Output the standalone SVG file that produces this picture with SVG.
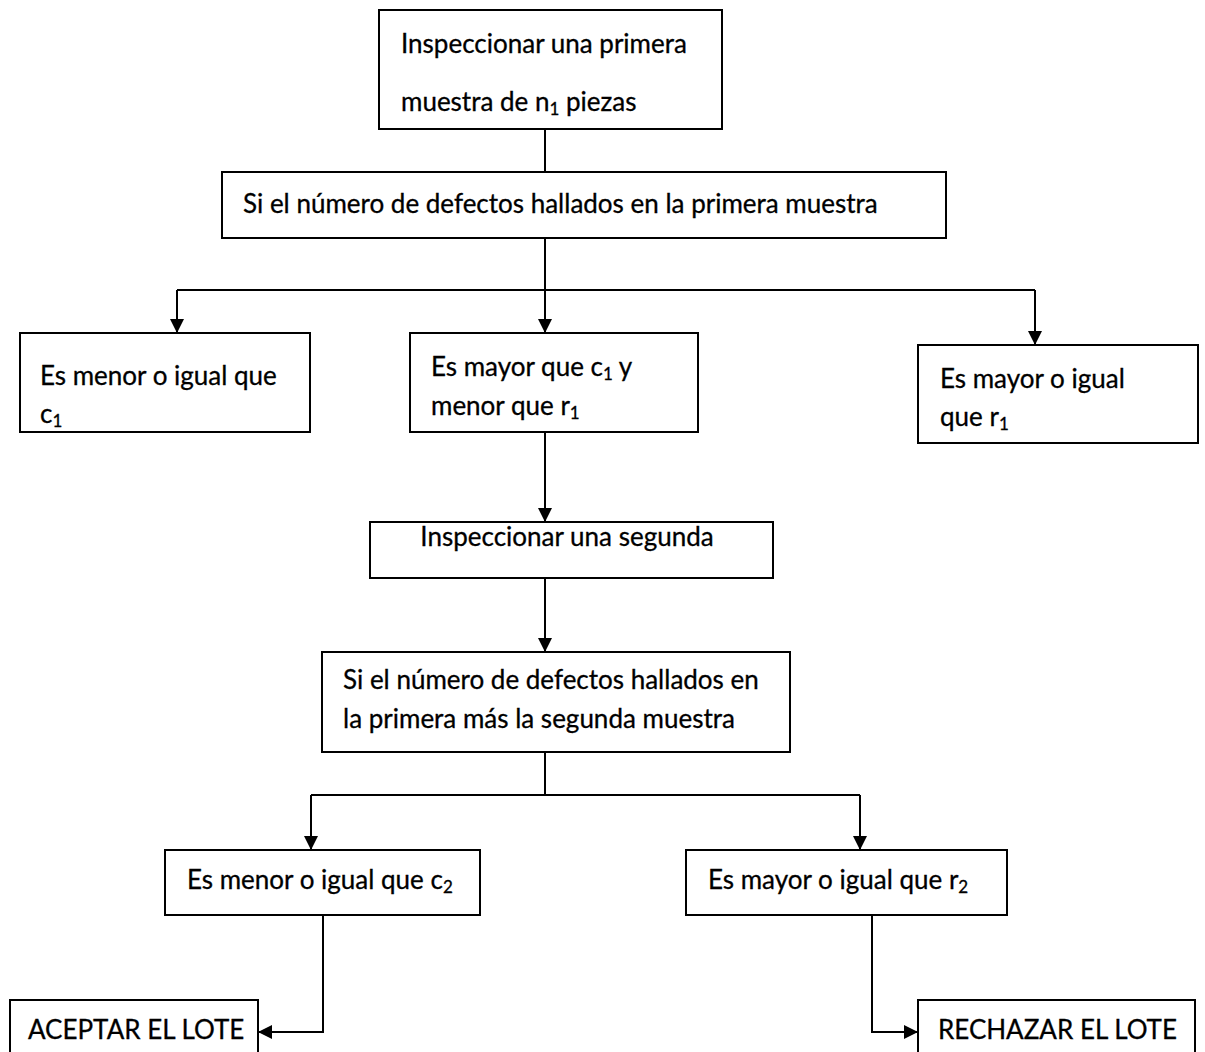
<svg xmlns="http://www.w3.org/2000/svg" width="1205" height="1052" viewBox="0 0 1205 1052">
<style>
.box{fill:#fff;stroke:#000;stroke-width:2}
.t{font-family:Lato,"Liberation Sans",sans-serif;font-size:26px;fill:#000;stroke:#000;stroke-width:0.3}
.s{font-size:17px}
.c{fill:none;stroke:#000;stroke-width:2}
</style>
<defs>
<marker id="ah" viewBox="0 0 10 10" refX="10" refY="5" markerWidth="7" markerHeight="7" markerUnits="strokeWidth" orient="auto">
<path d="M0,0 L10,5 L0,10 Z" fill="#000"/>
</marker>
</defs>
<rect width="1205" height="1052" fill="#fff"/>
<g id="connectors">
<path class="c" d="M545,129 V172"/>
<path class="c" d="M545,238 V290"/>
<path class="c" d="M177,290 H1035"/>
<path class="c" d="M177,290 V333" marker-end="url(#ah)"/>
<path class="c" d="M545,290 V333" marker-end="url(#ah)"/>
<path class="c" d="M1035,290 V345" marker-end="url(#ah)"/>
<path class="c" d="M545,432 V522" marker-end="url(#ah)"/>
<path class="c" d="M545,578 V652" marker-end="url(#ah)"/>
<path class="c" d="M545,752 V795"/>
<path class="c" d="M311,795 H860"/>
<path class="c" d="M311,795 V850" marker-end="url(#ah)"/>
<path class="c" d="M860,795 V850" marker-end="url(#ah)"/>
<path class="c" d="M323,915 V1032 H258" marker-end="url(#ah)"/>
<path class="c" d="M872,915 V1032 H918" marker-end="url(#ah)"/>
</g>
<g id="n1">
<rect class="box" x="379" y="10" width="343" height="119"/>
<text class="t" x="401" y="53">Inspeccionar una primera</text>
<text class="t" x="401" y="111">muestra de n<tspan class="s" dy="4">1</tspan><tspan dy="-4"> piezas</tspan></text>
</g>
<g id="n2">
<rect class="box" x="222" y="172" width="724" height="66"/>
<text class="t" x="243" y="213">Si el número de defectos hallados en la primera muestra</text>
</g>
<g id="n3">
<rect class="box" x="20" y="333" width="290" height="99"/>
<text class="t" x="40" y="385">Es menor o igual que</text>
<text class="t" x="40" y="423">c<tspan class="s" dy="4">1</tspan></text>
</g>
<g id="n4">
<rect class="box" x="410" y="333" width="288" height="99"/>
<text class="t" x="431" y="376">Es mayor que c<tspan class="s" dy="4">1</tspan><tspan dy="-4"> y</tspan></text>
<text class="t" x="431" y="415">menor que r<tspan class="s" dy="4">1</tspan></text>
</g>
<g id="n5">
<rect class="box" x="918" y="345" width="280" height="98"/>
<text class="t" x="940" y="388">Es mayor o igual</text>
<text class="t" x="940" y="426">que r<tspan class="s" dy="4">1</tspan></text>
</g>
<g id="n6">
<rect class="box" x="370" y="522" width="403" height="56"/>
<text class="t" x="567" y="546" text-anchor="middle">Inspeccionar una segunda</text>
</g>
<g id="n7">
<rect class="box" x="322" y="652" width="468" height="100"/>
<text class="t" x="343" y="689">Si el número de defectos hallados en</text>
<text class="t" x="343" y="728">la primera más la segunda muestra</text>
</g>
<g id="n8">
<rect class="box" x="165" y="850" width="315" height="65"/>
<text class="t" x="187" y="889">Es menor o igual que c<tspan class="s" dy="4">2</tspan></text>
</g>
<g id="n9">
<rect class="box" x="686" y="850" width="321" height="65"/>
<text class="t" x="708" y="889">Es mayor o igual que r<tspan class="s" dy="4">2</tspan></text>
</g>
<g id="n10">
<rect class="box" x="10" y="1000" width="248" height="70"/>
<text class="t" x="28" y="1039">ACEPTAR EL LOTE</text>
</g>
<g id="n11">
<rect class="box" x="918" y="1000" width="277" height="70"/>
<text class="t" x="938" y="1039">RECHAZAR EL LOTE</text>
</g>
</svg>
